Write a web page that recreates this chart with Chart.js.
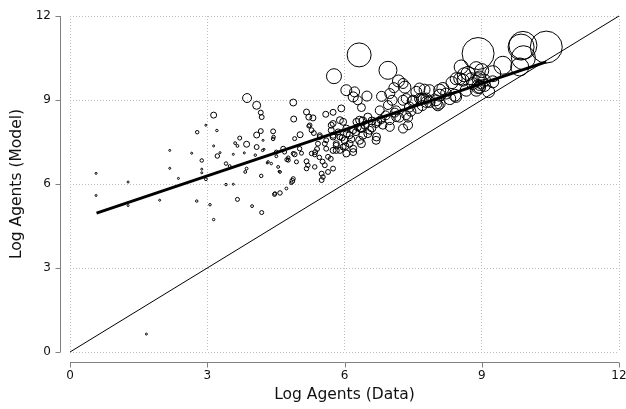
<!DOCTYPE html>
<html>
<head>
<meta charset="utf-8">
<script src="https://cdn.jsdelivr.net/npm/chart.js@4"></script>
<style>
  html, body { margin: 0; padding: 0; background: #fff; }
  #wrap { width: 626px; height: 409px; }
</style>
</head>
<body>
<div id="wrap"><canvas id="chart"></canvas></div>
<script>
// log agents: data (x) vs model (y), bubble weight per point
const xs = [
  0.57, 0.57, 1.27, 1.27, 1.67, 1.96, 2.18, 2.18, 2.37, 2.66,
  2.77, 2.78, 2.88, 2.88, 2.88, 2.97, 2.97, 3.06, 3.14, 3.14,
  3.21, 3.14, 3.22, 3.28, 3.41, 3.41, 3.49, 3.57, 3.57, 3.61,
  3.66, 3.66, 3.71, 3.81, 3.83, 3.86, 3.86, 3.87, 3.98, 4.05,
  4.08, 4.08, 4.08, 4.17, 4.19, 4.17, 4.18, 4.19, 4.22, 4.21,
  4.24, 4.31, 4.33, 4.40, 4.44, 4.45, 4.44, 4.47, 4.48, 4.51,
  4.51, 4.55, 4.57, 4.59, 4.59, 4.66, 4.69, 4.73, 4.74, 4.77,
  4.84, 4.86, 4.88, 4.88, 4.89, 4.88, 4.91, 4.91, 4.95, 5.02,
  5.03, 5.06, 5.17, 5.17, 5.17, 5.20, 5.22, 5.22, 5.24, 5.28,
  5.28, 5.31, 5.33, 5.35, 5.36, 5.42, 5.46, 5.46, 5.50, 5.50,
  5.53, 5.57, 5.57, 5.59, 5.60, 5.60, 5.64, 5.64, 5.71, 5.71,
  5.75, 5.75, 5.75, 5.75, 5.75, 5.75, 5.77, 5.82, 5.82, 5.82,
  5.86, 5.90, 5.90, 5.90, 5.93, 5.97, 5.97, 6.00, 6.04, 6.04,
  6.04, 6.11, 6.11, 6.19, 6.19, 6.19, 6.19, 6.22, 6.26, 6.29,
  6.29, 6.32, 6.33, 6.33, 6.37, 6.37, 6.37, 6.40, 6.40, 6.49,
  6.51, 6.51, 6.55, 6.69, 6.69, 6.70, 6.73, 6.77, 6.81, 6.84,
  6.95, 6.95, 6.99, 6.99, 6.99, 7.04, 7.08, 7.13, 7.13, 7.18,
  7.20, 7.28, 7.28, 7.28, 7.32, 7.35, 7.35, 7.39, 7.39, 7.42,
  7.48, 7.50, 7.57, 7.64, 7.64, 7.68, 7.72, 7.75, 7.79, 7.79,
  7.86, 7.86, 8.00, 8.01, 8.04, 8.08, 8.08, 8.08, 8.15, 8.22,
  8.30, 8.41, 8.44, 8.44, 8.52, 8.55, 8.59, 8.66, 8.77, 8.80,
  8.88, 8.88, 8.92, 8.92, 8.95, 8.95, 8.95, 8.97, 8.93, 9.06,
  9.06, 9.24, 9.24, 9.46, 9.83, 9.86, 9.90, 9.91, 10.41, 6.60,
  6.80, 6.90, 7.10, 6.45, 6.25, 6.15, 6.60, 7.45, 7.60, 7.70,
  6.05, 5.95, 6.35, 4.77, 5.35, 5.70, 5.45, 5.52, 6.02, 5.40,
  8.62, 8.35, 9.15, 8.70, 9.00
];
const ys = [
  6.38, 5.59, 6.07, 5.23, 0.64, 5.42, 7.20, 6.56, 6.20, 7.10,
  5.39, 7.85, 6.84, 6.53, 6.40, 6.17, 8.10, 5.26, 4.73, 8.46,
  7.91, 7.36, 7.00, 7.12, 6.73, 5.98, 6.64, 7.06, 5.99, 7.46,
  7.36, 5.45, 7.64, 7.11, 6.43, 7.42, 6.55, 9.07, 5.21, 7.03,
  7.75, 7.32, 8.81, 8.55, 8.39, 7.89, 6.29, 4.98, 7.56, 7.20,
  7.24, 6.75, 6.79, 6.73, 7.88, 7.68, 7.61, 5.63, 5.66, 7.14,
  6.99, 6.61, 6.45, 5.68, 6.43, 7.26, 7.14, 5.84, 6.87, 6.94,
  6.04, 6.11, 6.19, 8.91, 8.32, 7.09, 7.62, 7.06, 6.79, 7.26,
  7.76, 7.10, 8.57, 6.81, 6.55, 6.67, 8.39, 8.07, 8.10, 7.92,
  7.09, 8.36, 7.82, 6.61, 7.14, 7.44, 7.74, 7.68, 6.37, 6.14,
  6.25, 7.44, 6.67, 8.49, 7.26, 7.56, 6.97, 6.43, 7.92, 8.10,
  8.56, 8.16, 7.68, 7.74, 7.20, 6.55, 9.85, 7.44, 7.20, 7.38,
  7.86, 8.28, 7.68, 7.20, 8.70, 8.22, 7.32, 7.56, 9.35, 7.98,
  7.09, 7.44, 7.74, 9.11, 7.92, 7.26, 7.14, 9.29, 8.22, 8.99,
  8.02, 10.61, 7.56, 8.28, 8.73, 7.98, 7.44, 8.25, 7.74, 9.14,
  8.39, 7.80, 7.92, 8.16, 7.56, 7.68, 8.22, 8.63, 9.13, 8.10,
 10.06, 8.82, 9.23, 8.28, 8.04, 8.99, 9.44, 8.63, 8.39, 9.68,
  8.37, 8.99, 9.59, 7.98, 9.46, 8.46, 9.05, 8.37, 8.10, 8.75,
  8.96, 8.99, 9.29, 9.41, 9.05, 9.05, 9.05, 9.37, 8.93, 9.05,
  9.35, 8.93, 8.99, 8.87, 8.81, 9.17, 9.35, 8.87, 9.41, 9.23,
  9.05, 9.17, 9.76, 9.11, 9.76, 10.18, 9.71, 9.35, 9.76, 9.59,
 10.12, 9.35, 10.66, 9.76, 9.82, 9.46, 9.52, 9.55, 9.48, 9.52,
  9.71, 9.94, 9.65, 10.24, 10.18, 10.89, 10.95, 10.51, 10.89, 8.00,
  8.30, 8.45, 8.55, 8.10, 7.85, 7.60, 8.25, 8.60, 8.70, 8.80,
  7.80, 7.65, 8.00, 6.85, 7.05, 6.90, 6.95, 6.80, 7.35, 7.25,
  9.90, 9.62, 9.30, 9.95, 10.05
];
const weights = [
  1, 1, 1, 1, 1, 1, 1, 1, 1, 1,
  1.5, 3, 3, 1, 1, 2, 1, 1.5, 1.5, 9,
  1.5, 1, 5, 1, 3, 1.5, 2, 1, 1, 2,
  2, 4, 4, 1, 2, 9, 2, 20, 2, 1.5,
  9, 6, 16, 6, 6, 6, 3, 4, 1, 1.5,
  1, 1, 1.5, 1.5, 6, 3, 3, 4, 3, 4,
  2, 2, 1, 5, 2, 6, 4, 2, 4, 3,
  3, 6, 4, 12, 9, 4, 4, 6, 4, 5,
  9, 4, 9, 6, 5, 5, 9, 4, 5, 6,
  5, 9, 6, 5, 6, 6, 6, 6, 6, 6,
  5, 6, 6, 9, 6, 6, 6, 6, 9, 9,
  9, 9, 9, 9, 9, 6, 56, 9, 9, 9,
  9, 12, 9, 9, 12, 12, 9, 12, 30, 12,
  12, 12, 12, 25, 12, 12, 12, 25, 12, 20,
  12, 144, 16, 16, 16, 16, 16, 16, 16, 25,
  16, 16, 16, 16, 16, 16, 16, 20, 25, 16,
  81, 20, 25, 20, 20, 25, 25, 20, 20, 36,
  20, 25, 25, 20, 36, 20, 25, 20, 20, 25,
  25, 25, 30, 30, 25, 25, 25, 30, 30, 30,
  30, 30, 30, 30, 30, 36, 36, 30, 36, 30,
  36, 36, 36, 30, 36, 49, 36, 36, 36, 36,
  49, 36, 256, 36, 36, 36, 25, 16, 49, 36,
  36, 64, 36, 81, 81, 169, 196, 144, 256, 16,
  16, 20, 20, 16, 12, 12, 16, 25, 25, 25,
  12, 9, 16, 4, 5, 6, 5, 6, 12, 6,
  49, 36, 36, 49, 49
];

// fitted line and 45-degree line
const fitX = [0.58, 10.41];
const fitY = [4.96, 10.36];
const diagX = [0, 12];
const diagY = [0, 12];

const axisTicks = [0, 3, 6, 9, 12];

const points = xs.map((x, i) => ({ x: x, y: ys[i] }));
const fitLine = fitX.map((x, i) => ({ x: x, y: fitY[i] }));
const diagLine = diagX.map((x, i) => ({ x: x, y: diagY[i] }));

const FONT = 'DejaVu Sans';

// stata-style axis lines pulled away from the plot area
const offsetAxes = {
  id: 'offsetAxes',
  afterDraw(chart) {
    const { ctx, chartArea: a, scales } = chart;
    const gap = 10, tick = 5;
    ctx.save();
    ctx.strokeStyle = '#808080';
    ctx.lineWidth = 1;
    ctx.beginPath();
    const yb = Math.round(a.bottom + gap) + 0.5;
    ctx.moveTo(a.left, yb);
    ctx.lineTo(a.right, yb);
    axisTicks.forEach(v => {
      const px = Math.round(scales.x.getPixelForValue(v)) + 0.5;
      ctx.moveTo(px, yb);
      ctx.lineTo(px, yb + tick);
    });
    const xl = Math.round(a.left - gap) + 0.5;
    ctx.moveTo(xl, a.top);
    ctx.lineTo(xl, a.bottom);
    axisTicks.forEach(v => {
      const py = Math.round(scales.y.getPixelForValue(v)) + 0.5;
      ctx.moveTo(xl, py);
      ctx.lineTo(xl - tick, py);
    });
    ctx.stroke();
    ctx.restore();
  }
};

new Chart(document.getElementById('chart'), {
  type: 'scatter',
  data: {
    datasets: [
      {
        label: 'fit',
        data: fitLine,
        showLine: true,
        borderColor: '#000',
        borderWidth: 3,
        pointRadius: 0,
        order: 1
      },
      {
        label: '45',
        data: diagLine,
        showLine: true,
        borderColor: '#000',
        borderWidth: 1,
        pointRadius: 0,
        order: 2
      },
      {
        label: 'agents',
        data: points,
        backgroundColor: 'rgba(0,0,0,0)',
        borderColor: '#000',
        borderWidth: 1,
        pointRadius: ctx => Math.sqrt(weights[ctx.dataIndex] || 1),
        order: 3
      }
    ]
  },
  options: {
    responsive: true,
    maintainAspectRatio: false,
    animation: false,
    clip: false,
    layout: { autoPadding: false, padding: { top: 16, right: 7, bottom: 0, left: 0 } },
    plugins: {
      legend: { display: false },
      tooltip: { enabled: false }
    },
    scales: {
      x: {
        type: 'linear',
        min: 0,
        max: 12,
        afterFit: s => { s.height = 57; s.paddingLeft = 0; s.paddingRight = 0; },
        afterBuildTicks: s => { s.ticks = axisTicks.map(v => ({ value: v })); },
        border: { display: false, dash: [1, 2] },
        grid: { color: '#bdbdbd', drawTicks: false },
        ticks: { padding: 17, color: '#111', font: { family: FONT, size: 12 } },
        title: {
          display: true,
          text: 'Log Agents (Data)',
          color: '#111',
          font: { family: FONT, size: 15.5 },
          padding: { top: 0, bottom: 4.7 }
        }
      },
      y: {
        type: 'linear',
        min: 0,
        max: 12,
        afterFit: s => { s.width = 70; s.paddingTop = 0; s.paddingBottom = 0; },
        afterBuildTicks: s => { s.ticks = axisTicks.map(v => ({ value: v })); },
        border: { display: false, dash: [1, 2] },
        grid: { color: '#bdbdbd', drawTicks: false },
        ticks: { padding: 19, color: '#111', font: { family: FONT, size: 12 } },
        title: {
          display: true,
          text: 'Log Agents (Model)',
          color: '#111',
          font: { family: FONT, size: 15.5 },
          padding: { top: 7.7, bottom: 0 }
        }
      }
    }
  },
  plugins: [offsetAxes]
});
</script>
</body>
</html>
